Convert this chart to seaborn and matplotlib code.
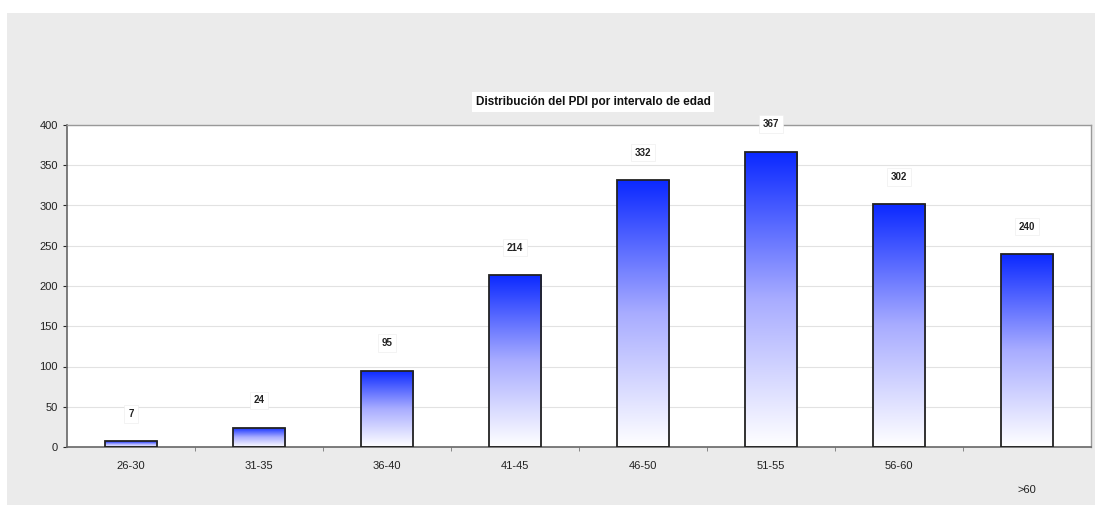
import numpy as np
import matplotlib
matplotlib.use("Agg")
import matplotlib.pyplot as plt
import matplotlib.patches as mpatches
from matplotlib.colors import LinearSegmentedColormap
import seaborn as sns

sns.set_style("white")
plt.rcParams['font.family'] = ['Liberation Sans', 'DejaVu Sans']

# data
age_groups = ['26-30', '31-35', '36-40', '41-45', '46-50', '51-55', '56-60', '>60']
pdi_counts = [7, 24, 95, 214, 332, 367, 302, 240]
title = "Distribución del PDI por intervalo de edad"

fig = plt.figure(figsize=(10.95, 5.05), dpi=100, facecolor='white')
# grey chart area, as in the spreadsheet export
fig.patches.append(mpatches.Rectangle((7 / 1095, 0), 1 - 7 / 1095, 1 - 13 / 505,
                                      transform=fig.transFigure, facecolor='#ebebeb',
                                      edgecolor='none', zorder=-10))
ax = fig.add_axes([67 / 1095, 1 - 447 / 505, (1091 - 67) / 1095, (447 - 125) / 505])
ax.set_facecolor('white')

sns.barplot(x=age_groups, y=pdi_counts, ax=ax, width=0.41, color='#2233ff',
            edgecolor='#222222', linewidth=1.3, zorder=3)

# blue-to-white vertical gradient inside each bar
cmap = LinearSegmentedColormap.from_list('bluewhite', ['#ffffff', '#a8acff', '#0a28ff'])
grad = np.linspace(0, 1, 256).reshape(-1, 1)
for bar in ax.patches:
    x0, y0 = bar.get_x(), bar.get_y()
    w, h = bar.get_width(), bar.get_height()
    bar.set_facecolor('none')
    im = ax.imshow(grad, cmap=cmap, aspect='auto', origin='lower',
                   extent=[x0, x0 + w, y0, y0 + h], zorder=2)
    im.set_clip_path(bar)

ax.set_xlim(-0.5, len(age_groups) - 0.5)
ax.set_ylim(0, 400)
ax.set_yticks(np.arange(0, 401, 50))
ax.yaxis.grid(True, color='#e2e2e2', linewidth=0.8)
ax.set_axisbelow(True)

# value labels in small white boxes
for i, v in enumerate(pdi_counts):
    ax.annotate(str(v), (i, v), xytext=(0, 16), textcoords='offset points',
                ha='center', va='bottom', fontsize=7, fontweight='bold', color='#222222',
                bbox=dict(boxstyle='square,pad=0.4', facecolor='white', edgecolor='#eeeeee', lw=0.5),
                zorder=5, annotation_clip=False)

# category labels; ">60" sits lower like in the original
ax.set_xticks(np.arange(len(age_groups)))
ax.set_xticklabels(age_groups)
ax.tick_params(axis='x', length=0, pad=10, labelsize=8, labelcolor='#222222')
ax.tick_params(axis='y', length=3, labelsize=8, labelcolor='#222222', left=True)
ax.get_xticklabels()[-1].set_y(-0.075)
ax.set_xticks(np.arange(len(age_groups) - 1) + 0.5, minor=True)
ax.tick_params(axis='x', which='minor', length=3, bottom=True, direction='out', color='#777777')
ax.set_xlabel('')
ax.set_ylabel('')

for side in ['left', 'bottom']:
    ax.spines[side].set_color('#666666')
    ax.spines[side].set_linewidth(1.2)
for side in ['top', 'right']:
    ax.spines[side].set_color('#999999')
    ax.spines[side].set_linewidth(1.0)

fig.text(593 / 1095, 1 - 102 / 505, title, ha='center', va='center', fontsize=8.5,
         fontweight='bold', color='#111111',
         bbox=dict(boxstyle='square,pad=0.3', facecolor='white', edgecolor='none'))

fig.savefig('out.png', dpi=100, facecolor=fig.get_facecolor())
